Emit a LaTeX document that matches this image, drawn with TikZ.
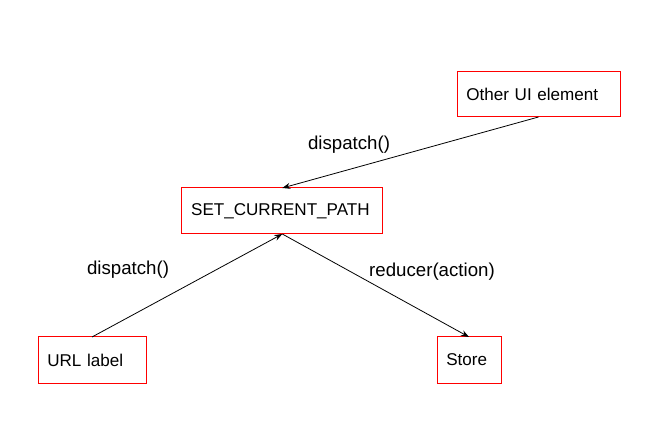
\documentclass[tikz,border=0pt]{standalone}
\usepackage{fontspec}
\setmainfont{Liberation Sans}
\usetikzlibrary{arrows.meta}

\begin{document}
\begin{tikzpicture}[x=0.75pt, y=-0.75pt,
		box/.style = {draw = red, line width = 0.75pt, inner xsep = 7pt, inner ysep = 0pt, outer sep = 0pt,
			align = left, minimum height = 34.5pt, font = \fontsize{12.8}{15}\selectfont},
		lbl/.style = {font = \fontsize{14}{16}\selectfont},
		flow/.style = {line width = 0.6pt, -{Stealth[length = 6pt, width = 4.5pt]}}]
				\useasboundingbox (0,0) rectangle (654,431);
				\node[box, text width = 136.75pt] (setpath) at (282.3, 211) {SET\_CURRENT\_PATH};
				\node[box, text width = 67pt] (url) at (92, 360) {URL label};
				\node[box, text width = 108.25pt, minimum height = 33.75pt] (other) at (538.5, 94.5) {Other UI element};
				\node[box, text width = 34pt] (store) at (469, 360) {Store};
				\draw[flow] (other.south) -- (setpath.north);
				\draw[flow] (url.north) -- (setpath.south);
				\draw[flow] (setpath.south) -- (store.north);
				\node[lbl] (dispatchtop) at (349, 145) {dispatch()};
				\node[lbl] (dispatchleft) at (128, 270) {dispatch()};
				\node[lbl] (reducer) at (432, 272) {reducer(action)};
			\end{tikzpicture}
\end{document}
